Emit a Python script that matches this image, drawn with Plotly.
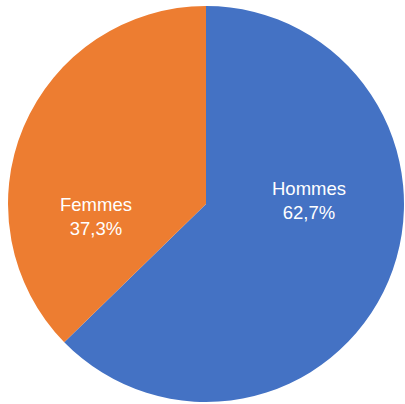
import plotly.graph_objects as go

labels = ["Hommes", "Femmes"]
values = [62.7, 37.3]
colors = ["#4472C4", "#ED7D31"]
label_pos = [(0.764, 0.503), (0.237, 0.465)]

W, H = 405, 404

fig = go.Figure(go.Pie(
    labels=labels,
    values=values,
    sort=False,
    direction="clockwise",
    rotation=0,
    marker=dict(colors=colors, line=dict(width=0)),
    textinfo="none",
    hoverinfo="label+percent",
    domain=dict(x=[8 / W, 404 / W], y=[2 / H, 398 / H]),
))

annotations = []
for lab, val, (ax, ay) in zip(labels, values, label_pos):
    txt = f"{lab}<br>{val:.1f}%".replace(".", ",")
    annotations.append(dict(
        x=ax, y=ay, xref="paper", yref="paper", text=txt, showarrow=False,
        font=dict(color="white", size=18.5, family="Liberation Sans, Arial, sans-serif"),
        align="center", xanchor="center", yanchor="middle",
    ))

fig.update_layout(
    width=W, height=H,
    margin=dict(l=0, r=0, t=0, b=0),
    showlegend=False,
    paper_bgcolor="white",
    annotations=annotations,
)
fig.write_html("out.html", config={"displayModeBar": False},
               post_script="document.body.style.margin='0';")
